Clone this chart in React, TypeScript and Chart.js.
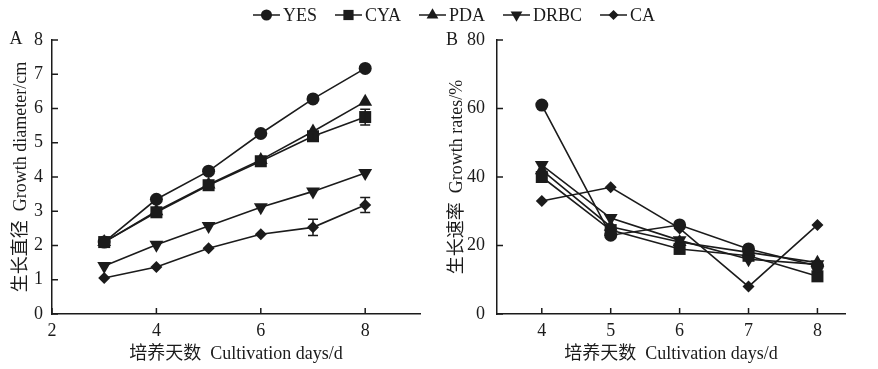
import React, { useEffect, useRef } from 'react';
import { Chart, registerables } from 'chart.js';
Chart.register(...registerables);

// ---------- data ----------
const seriesNames = ['YES', 'CYA', 'PDA', 'DRBC', 'CA'];
const daysA = [3, 4, 5, 6, 7, 8];
const daysB = [4, 5, 6, 7, 8];

const diamYES = [2.1, 3.35, 4.17, 5.27, 6.28, 7.17];
const diamCYA = [2.1, 2.97, 3.76, 4.46, 5.19, 5.75];
const diamPDA = [2.1, 3.0, 3.78, 4.5, 5.33, 6.2];
const diamDRBC = [1.4, 2.02, 2.57, 3.12, 3.58, 4.12];
const diamCA = [1.05, 1.37, 1.92, 2.33, 2.53, 3.18];
const errCYA = [0, 0, 0, 0, 0.12, 0.23];
const errCA = [0, 0, 0, 0, 0.24, 0.22];

const rateYES = [61, 23, 26, 19, 14];
const rateCYA = [40, 24.5, 19, 17, 11];
const ratePDA = [42, 25.5, 21, 18, 15];
const rateDRBC = [43.5, 28, 21.5, 16, 14.5];
const rateCA = [33, 37, 25, 8, 26];

const diamSeries = [diamYES, diamCYA, diamPDA, diamDRBC, diamCA];
const diamErrors = [null, errCYA, null, null, errCA];
const rateSeries = [rateYES, rateCYA, ratePDA, rateDRBC, rateCA];

const titleAx = '培养天数  Cultivation days/d';
const titleAy = '生长直径  Growth diameter/cm';
const titleBy = '生长速率  Growth rates/%';

// ---------- styles ----------
const INK = '#1b1b1b';
const FONT = "'Liberation Serif', 'Times New Roman', 'Noto Sans CJK SC', serif";
const markerStyles = [
  { pointStyle: 'circle', radius: 6.5, rotation: 0 },
  { pointStyle: 'rect', radius: 8.5, rotation: 0 },
  { pointStyle: 'triangle', radius: 8, rotation: 0 },
  { pointStyle: 'triangle', radius: 8, rotation: 180 },
  { pointStyle: 'rectRot', radius: 6, rotation: 0 },
];

function drawMarker(ctx: CanvasRenderingContext2D, idx: number, x: number, y: number, scale = 1) {
  const s = markerStyles[idx];
  const r = s.radius * scale;
  ctx.beginPath();
  if (s.pointStyle === 'circle') {
    ctx.arc(x, y, r, 0, Math.PI * 2);
  } else if (s.pointStyle === 'rect') {
    const h = r * Math.SQRT1_2;
    ctx.rect(x - h, y - h, 2 * h, 2 * h);
  } else if (s.pointStyle === 'rectRot') {
    ctx.moveTo(x, y - r);
    ctx.lineTo(x + r, y);
    ctx.lineTo(x, y + r);
    ctx.lineTo(x - r, y);
    ctx.closePath();
  } else {
    const sign = s.rotation === 180 ? -1 : 1;
    for (let k = 0; k < 3; k++) {
      const a = -Math.PI / 2 + (k * 2 * Math.PI) / 3;
      const px = x + Math.cos(a) * r;
      const py = y + sign * Math.sin(a) * r;
      if (k === 0) ctx.moveTo(px, py);
      else ctx.lineTo(px, py);
    }
    ctx.closePath();
  }
  ctx.fill();
}

const inwardTicks = {
  id: 'inwardTicks',
  afterDraw(chart: any) {
    const { ctx, chartArea } = chart;
    const xs = chart.scales.x;
    const ys = chart.scales.y;
    ctx.save();
    ctx.strokeStyle = INK;
    ctx.lineWidth = 1.5;
    xs.ticks.forEach((t: any) => {
      const px = xs.getPixelForValue(t.value);
      ctx.beginPath();
      ctx.moveTo(px, chartArea.bottom);
      ctx.lineTo(px, chartArea.bottom - 6);
      ctx.stroke();
    });
    ys.ticks.forEach((t: any) => {
      const py = ys.getPixelForValue(t.value);
      ctx.beginPath();
      ctx.moveTo(chartArea.left, py);
      ctx.lineTo(chartArea.left + 6, py);
      ctx.stroke();
    });
    ctx.restore();
  },
};

const errorBars = {
  id: 'errorBars',
  afterDatasetsDraw(chart: any, _args: any, opts: any) {
    const errs = opts.errors as (number[] | null)[];
    if (!errs) return;
    const { ctx } = chart;
    const xs = chart.scales.x;
    const ys = chart.scales.y;
    ctx.save();
    ctx.strokeStyle = INK;
    ctx.lineWidth = 1.5;
    chart.data.datasets.forEach((ds: any, i: number) => {
      const e = errs[i];
      if (!e) return;
      ds.data.forEach((p: any, j: number) => {
        if (!e[j]) return;
        const px = xs.getPixelForValue(p.x);
        const top = ys.getPixelForValue(p.y + e[j]);
        const bot = ys.getPixelForValue(p.y - e[j]);
        ctx.beginPath();
        ctx.moveTo(px, top);
        ctx.lineTo(px, bot);
        ctx.moveTo(px - 5, top);
        ctx.lineTo(px + 5, top);
        ctx.moveTo(px - 5, bot);
        ctx.lineTo(px + 5, bot);
        ctx.stroke();
      });
    });
    ctx.restore();
  },
};

const panelLabel = {
  id: 'panelLabel',
  afterDraw(chart: any, _args: any, opts: any) {
    if (!opts.text) return;
    const { ctx } = chart;
    ctx.save();
    ctx.fillStyle = INK;
    ctx.font = `18px ${FONT}`;
    ctx.textAlign = 'center';
    ctx.textBaseline = 'middle';
    ctx.fillText(opts.text, opts.x, opts.y);
    ctx.restore();
  },
};

const topLegend = {
  id: 'topLegend',
  afterDraw(chart: any, _args: any, opts: any) {
    if (!opts.show) return;
    const { ctx } = chart;
    ctx.save();
    ctx.font = `18px ${FONT}`;
    const lineW = 27;
    const gap = 3;
    const itemGap = 18;
    const widths = seriesNames.map((n) => lineW + gap + ctx.measureText(n).width);
    const total = widths.reduce((a, b) => a + b, 0) + itemGap * (seriesNames.length - 1);
    let x = opts.cx - total / 2;
    const y = opts.cy;
    seriesNames.forEach((n, i) => {
      ctx.strokeStyle = INK;
      ctx.fillStyle = INK;
      ctx.lineWidth = 1.5;
      ctx.beginPath();
      ctx.moveTo(x, y);
      ctx.lineTo(x + lineW, y);
      ctx.stroke();
      drawMarker(ctx, i, x + lineW / 2, y, 0.85);
      ctx.textAlign = 'left';
      ctx.textBaseline = 'middle';
      ctx.fillText(n, x + lineW + gap, y + 1);
      x += widths[i] + itemGap;
    });
    ctx.restore();
  },
};

function makeDatasets(days: number[], series: number[][]) {
  return series.map((vals, i) => ({
    label: seriesNames[i],
    data: vals.map((v, j) => ({ x: days[j], y: v })),
    borderColor: INK,
    backgroundColor: INK,
    borderWidth: 1.6,
    pointStyle: markerStyles[i].pointStyle,
    pointRadius: markerStyles[i].radius,
    pointRotation: markerStyles[i].rotation,
    pointBackgroundColor: INK,
    pointBorderColor: INK,
    pointBorderWidth: 0,
    tension: 0,
    fill: false,
    clip: false,
  }));
}

function axisCommon() {
  return {
    grid: { display: true, drawOnChartArea: false, drawTicks: false },
    border: { display: true, color: INK, width: 1.5 },
  };
}

export default function App() {
  const refA = useRef<HTMLCanvasElement>(null);
  const refB = useRef<HTMLCanvasElement>(null);

  useEffect(() => {
    document.body.style.margin = '0';
    const tickFont = { family: FONT, size: 18 };
    const titleFont = { family: FONT, size: 18 };

    const a = new Chart(refA.current as HTMLCanvasElement, {
      type: 'line',
      data: { datasets: makeDatasets(daysA, diamSeries) as any },
      plugins: [inwardTicks, errorBars, panelLabel, topLegend],
      options: {
        animation: false,
        responsive: false,
        devicePixelRatio: 1,
        events: [],
        layout: { padding: { top: 40, right: 458, left: 0, bottom: 0 } },
        plugins: {
          legend: { display: false },
          tooltip: { enabled: false },
          errorBars: { errors: diamErrors },
          panelLabel: { text: 'A', x: 16, y: 39 },
          topLegend: { show: true, cx: 454, cy: 15 },
        } as any,
        scales: {
          x: {
            type: 'linear',
            min: 2,
            max: 9.05,
            ...axisCommon(),
            ticks: { stepSize: 2, includeBounds: false, color: INK, font: tickFont, padding: 6 },
            title: { display: true, text: titleAx, color: INK, font: titleFont, padding: { top: 0, bottom: 4 } },
            afterFit: (s: any) => { s.height = 55; },
          },
          y: {
            type: 'linear',
            min: 0,
            max: 8,
            ...axisCommon(),
            ticks: { stepSize: 1, color: INK, font: tickFont, padding: 9 },
            title: { display: true, text: titleAy, color: INK, font: titleFont, padding: { top: 10, bottom: 0 } },
            afterFit: (s: any) => { s.width = 52; },
          },
        } as any,
      },
    });

    const b = new Chart(refB.current as HTMLCanvasElement, {
      type: 'line',
      data: { datasets: makeDatasets(daysB, rateSeries) as any },
      plugins: [inwardTicks, panelLabel],
      options: {
        animation: false,
        responsive: false,
        devicePixelRatio: 1,
        events: [],
        layout: { padding: { top: 40, right: 33, left: 435, bottom: 0 } },
        plugins: {
          legend: { display: false },
          tooltip: { enabled: false },
          panelLabel: { text: 'B', x: 452, y: 40 },
        } as any,
        scales: {
          x: {
            type: 'linear',
            min: 3.35,
            max: 8.4,
            ...axisCommon(),
            ticks: { stepSize: 1, includeBounds: false, color: INK, font: tickFont, padding: 6 },
            title: { display: true, text: titleAx, color: INK, font: titleFont, padding: { top: 0, bottom: 4 } },
            afterFit: (s: any) => { s.height = 55; },
          },
          y: {
            type: 'linear',
            min: 0,
            max: 80,
            ...axisCommon(),
            ticks: { stepSize: 20, color: INK, font: tickFont, padding: 12 },
            title: { display: true, text: titleBy, color: INK, font: titleFont, padding: { top: 11, bottom: 0 } },
            afterFit: (s: any) => { s.width = 62; },
          },
        } as any,
      },
    });

    return () => {
      a.destroy();
      b.destroy();
    };
  }, []);

  return (
    <div style={{ position: 'relative', width: 878, height: 369, background: '#fff' }}>
      <canvas ref={refA} width={878} height={369} style={{ position: 'absolute', left: 0, top: 0 }} />
      <canvas ref={refB} width={878} height={369} style={{ position: 'absolute', left: 0, top: 0 }} />
    </div>
  );
}
